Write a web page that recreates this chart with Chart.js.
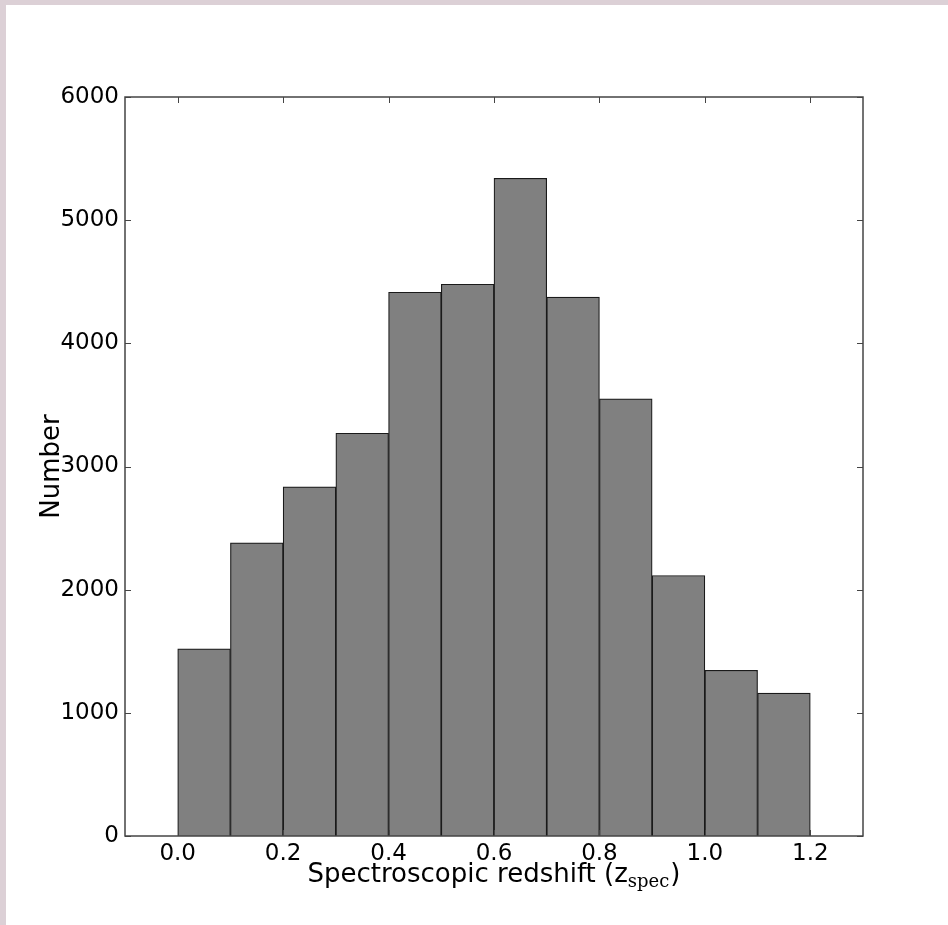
<!DOCTYPE html>
<html>
<head>
<meta charset="utf-8">
<script src="https://cdn.jsdelivr.net/npm/chart.js@4.4.1/dist/chart.umd.min.js"></script>
<style>
    html, body { margin: 0; padding: 0; }
    body { width: 948px; height: 925px; background: #dcd0d6; position: relative; overflow: hidden; }
    #wrap { position: absolute; left: 6px; top: 5px; width: 942px; height: 920px; background: #fff; }
    #hist { display: block; }
</style>
</head>
<body>
<div id="wrap"><canvas id="hist" width="942" height="920"></canvas></div>
<script>
// histogram bins (left edges) and counts
const binEdges = [0.0, 0.1, 0.2, 0.3, 0.4, 0.5, 0.6, 0.7, 0.8, 0.9, 1.0, 1.1];
const binWidth = 0.1;
const counts = [1520, 2380, 2835, 3270, 4415, 4480, 5340, 4375, 3550, 2115, 1345, 1160];
const xTickValues = [0.0, 0.2, 0.4, 0.6, 0.8, 1.0, 1.2];
const yTickValues = [0, 1000, 2000, 3000, 4000, 5000, 6000];
const xLabelMain = "Spectroscopic redshift (z";
const xLabelSub = "spec";
const yLabel = "Number";

const FONT = "'DejaVu Sans', sans-serif";

// matplotlib-style frame with inward ticks on all four sides
const framePlugin = {
    id: 'frame',
    afterDraw(chart) {
        const ctx = chart.ctx;
        const area = chart.chartArea;
        const xs = chart.scales.x;
        const ys = chart.scales.y;
        const len = 6;
        ctx.save();
        ctx.strokeStyle = '#444';
        ctx.lineWidth = 1.5;
        ctx.strokeRect(area.left, area.top, area.right - area.left, area.bottom - area.top);
        ctx.lineWidth = 1;
        ctx.beginPath();
        for (let v of xTickValues) {
            const px = Math.round(xs.getPixelForValue(v)) + 0.5;
            ctx.moveTo(px, area.bottom); ctx.lineTo(px, area.bottom - len);
            ctx.moveTo(px, area.top); ctx.lineTo(px, area.top + len);
        }
        for (let v of yTickValues) {
            const py = Math.round(ys.getPixelForValue(v)) + 0.5;
            ctx.moveTo(area.left, py); ctx.lineTo(area.left + len, py);
            ctx.moveTo(area.right, py); ctx.lineTo(area.right - len, py);
        }
        ctx.stroke();

        // x axis title with the serif subscript
        ctx.fillStyle = '#000';
        ctx.textBaseline = 'alphabetic';
        ctx.textAlign = 'left';
        const mainFont = "26px " + FONT;
        const subFont = "18px 'DejaVu Serif', serif";
        ctx.font = mainFont;
        const wMain = ctx.measureText(xLabelMain).width;
        const wClose = ctx.measureText(")").width;
        ctx.font = subFont;
        const wSub = ctx.measureText(xLabelSub).width;
        const total = wMain + wSub + 1 + wClose;
        let x0 = (area.left + area.right) / 2 - total / 2;
        const base = area.bottom + 46;
        ctx.font = mainFont;
        ctx.fillText(xLabelMain, x0, base);
        ctx.font = subFont;
        ctx.fillText(xLabelSub, x0 + wMain, base + 5);
        ctx.font = mainFont;
        ctx.fillText(")", x0 + wMain + wSub + 1, base);

        // y axis title
        ctx.save();
        ctx.translate(46, (area.top + area.bottom) / 2);
        ctx.rotate(-Math.PI / 2);
        ctx.textAlign = 'center';
        ctx.textBaseline = 'middle';
        ctx.font = mainFont;
        ctx.fillText(yLabel, 0, 0);
        ctx.restore();
        ctx.restore();
    }
};

const ctx = document.getElementById('hist').getContext('2d');
new Chart(ctx, {
    type: 'bar',
    data: {
        datasets: [{
            data: binEdges.map((e, i) => ({ x: e + binWidth / 2, y: counts[i] })),
            backgroundColor: '#808080',
            borderColor: '#1a1a1a',
            borderWidth: 1.2,
            barPercentage: 1,
            categoryPercentage: 1,
        }]
    },
    options: {
        responsive: false,
        animation: false,
        events: [],
        layout: { padding: { left: 0, top: 92, right: 85, bottom: 0 } },
        plugins: {
            legend: { display: false },
            tooltip: { enabled: false },
        },
        scales: {
            x: {
                type: 'linear',
                min: -0.1,
                max: 1.3,
                offset: false,
                grid: { display: false, drawTicks: false },
                border: { display: false },
                afterBuildTicks: (scale) => {
                    scale.ticks = xTickValues.map(v => ({ value: v }));
                },
                afterFit: (scale) => { scale.height = 89; },
                ticks: {
                    padding: 4,
                    color: '#000',
                    font: { family: FONT, size: 23 },
                    maxRotation: 0,
                    callback: (v) => Number(v).toFixed(1),
                },
            },
            y: {
                min: 0,
                max: 6000,
                grid: { display: false, drawTicks: false },
                border: { display: false },
                afterBuildTicks: (scale) => {
                    scale.ticks = yTickValues.map(v => ({ value: v }));
                },
                afterFit: (scale) => { scale.width = 119; },
                ticks: {
                    padding: 6,
                    color: '#000',
                    font: { family: FONT, size: 23 },
                    callback: (v) => String(v),
                },
            },
        },
    },
    plugins: [framePlugin],
});
</script>
</body>
</html>
